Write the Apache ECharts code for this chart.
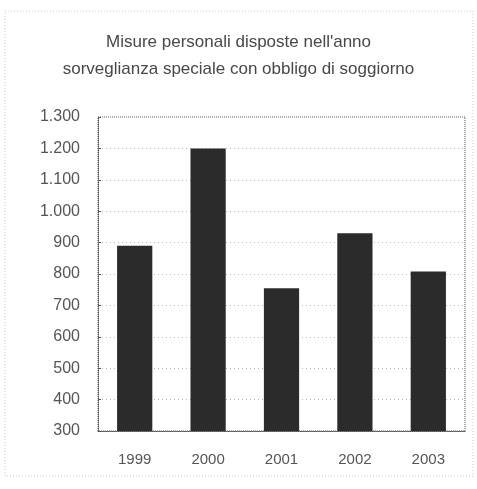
<!DOCTYPE html>
<html>
<head>
<meta charset="utf-8">
<script src="https://cdn.jsdelivr.net/npm/echarts@6/dist/echarts.min.js"></script>
<style>
  html, body { margin: 0; padding: 0; background: #fff; }
  #chart { width: 477px; height: 489px; }
</style>
</head>
<body>
<div id="chart"></div>
<script>
// dati
const anni = ['1999', '2000', '2001', '2002', '2003'];
const misure = [890, 1200, 755, 930, 808];
const yTicks = [300, 400, 500, 600, 700, 800, 900, 1000, 1100, 1200, 1300];

const titolo = "Misure personali disposte nell'anno\nsorveglianza speciale con obbligo di soggiorno";

// formato con punto delle migliaia
function fmt(v) {
    return v >= 1000 ? Math.floor(v / 1000) + '.' + String(v % 1000).padStart(3, '0') : String(v);
}

const myChart = echarts.init(document.getElementById('chart'));

const option = {
    backgroundColor: '#fff',
    animation: false,
    title: {
        text: titolo,
        left: 'center',
        top: 24,
        textStyle: {
            fontFamily: 'Liberation Sans',
            fontSize: 17,
            fontWeight: 'normal',
            color: '#484848',
            lineHeight: 27
        }
    },
    // cornice esterna tratteggiata
    graphic: [{
        type: 'rect',
        shape: { x: 5, y: 11, width: 468, height: 465 },
        style: { fill: 'none', stroke: '#c8c8c8', lineWidth: 1, lineDash: [1, 2] },
        silent: true
    }],
    grid: {
        left: 98,
        right: 12,
        top: 117,
        bottom: 58,
        show: true,
        borderColor: '#555',
        borderWidth: 1,
        borderType: [1, 1]
    },
    xAxis: {
        type: 'category',
        data: anni,
        axisLine: { lineStyle: { color: '#555', type: [1, 1] } },
        axisTick: { show: false },
        axisLabel: {
            margin: 21,
            fontFamily: 'Liberation Sans',
            fontSize: 15,
            color: '#555'
        }
    },
    yAxis: {
        type: 'value',
        min: yTicks[0],
        max: yTicks[yTicks.length - 1],
        interval: 100,
        axisLine: { show: true, lineStyle: { color: '#555', type: [1, 1] } },
        axisTick: { show: true, length: 3, inside: true, lineStyle: { color: '#555' } },
        axisLabel: {
            margin: 18,
            fontFamily: 'Liberation Sans',
            fontSize: 16,
            color: '#555',
            formatter: fmt
        },
        splitLine: { lineStyle: { color: '#b8b8b8', type: [1, 3] } }
    },
    series: [{
        type: 'bar',
        data: misure,
        barWidth: '48%',
        itemStyle: { color: '#2b2b2b' }
    }]
};

myChart.setOption(option);
</script>
</body>
</html>
